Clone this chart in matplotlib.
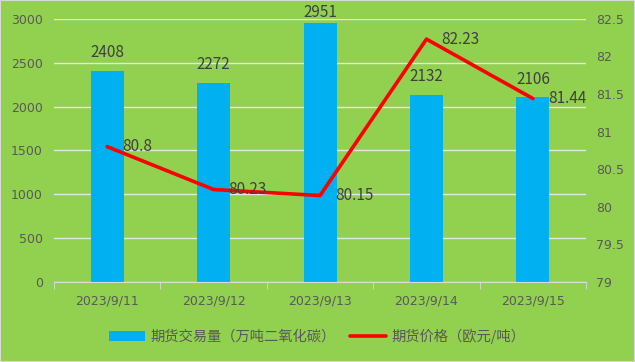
import matplotlib.pyplot as plt
import numpy as np

plt.rcParams['font.family'] = ['Noto Sans CJK SC', 'DejaVu Sans']

# data
dates = ['2023/9/11', '2023/9/12', '2023/9/13', '2023/9/14', '2023/9/15']
volume = [2408, 2272, 2951, 2132, 2106]
price = [80.8, 80.23, 80.15, 82.23, 81.44]
vol_name = '期货交易量（万吨二氧化碳）'
price_name = '期货价格（欧元/吨）'

bg = '#92D050'
bar_color = '#00B0F0'
line_color = '#FF0000'
tick_color = '#595959'
label_color = '#404040'

fig = plt.figure(figsize=(6.35, 3.62), dpi=100, facecolor=bg)
ax = fig.add_axes([0.085, 0.221, 0.838, 0.727])
ax.set_facecolor(bg)
x = np.arange(len(dates))

bars = ax.bar(x, volume, width=0.31, color=bar_color, zorder=2, label=vol_name)
ax.set_ylim(0, 3000)
ax.set_yticks(np.arange(0, 3001, 500))
ax.set_xlim(-0.5, len(dates) - 0.5)
ax.grid(axis='y', color='#E6E6E6', linewidth=1, zorder=0)
ax.set_xticks(x)
ax.set_xticklabels(dates, family='DejaVu Sans')
for lbl in ax.get_yticklabels():
    lbl.set_family('DejaVu Sans')
for s in ['top', 'left', 'right']:
    ax.spines[s].set_visible(False)
ax.spines['bottom'].set_color('#D9D9D9')
ax.tick_params(axis='y', length=0, colors=tick_color, labelsize=9, pad=8)
ax.tick_params(axis='x', length=0, colors=tick_color, labelsize=9, pad=9)
# minor ticks at category boundaries
ax.set_xticks(np.arange(-0.5, len(dates), 1), minor=True)
ax.tick_params(axis='x', which='minor', length=5, color='#D9D9D9', direction='out')

for xi, v in zip(x, volume):
    ax.text(xi, min(v + 110, 2975), str(v), ha='center', va='bottom', fontsize=11,
            color=label_color)

ax2 = ax.twinx()
ax2.plot(x, price, color=line_color, linewidth=2.6, zorder=3, label=price_name,
         solid_capstyle='round')
ax2.set_ylim(79, 82.5)
ax2.set_yticks(np.arange(79, 82.51, 0.5))
ax2.set_yticklabels(['79', '79.5', '80', '80.5', '81', '81.5', '82', '82.5'],
                    family='DejaVu Sans')
for s in ['top', 'left', 'right', 'bottom']:
    ax2.spines[s].set_visible(False)
ax2.tick_params(axis='y', length=0, colors=tick_color, labelsize=9, pad=7)

for xi, p in zip(x, price):
    ax2.text(xi + 0.14, p, f'{p:g}', ha='left', va='center', fontsize=11, color=label_color)

h1, l1 = ax.get_legend_handles_labels()
h2, l2 = ax2.get_legend_handles_labels()
fig.legend(h1 + h2, l1 + l2, loc='center', bbox_to_anchor=(0.5, 0.072), ncol=2,
           frameon=False, fontsize=10.3, labelcolor=tick_color, handlelength=2.5,
           columnspacing=1.0, handletextpad=0.4)

fig.patches.append(plt.Rectangle((0, 0), 1, 1, transform=fig.transFigure,
                                 fill=False, edgecolor='#D9D9D9', linewidth=1.5))

fig.savefig('out.png', dpi=100, facecolor=bg)
